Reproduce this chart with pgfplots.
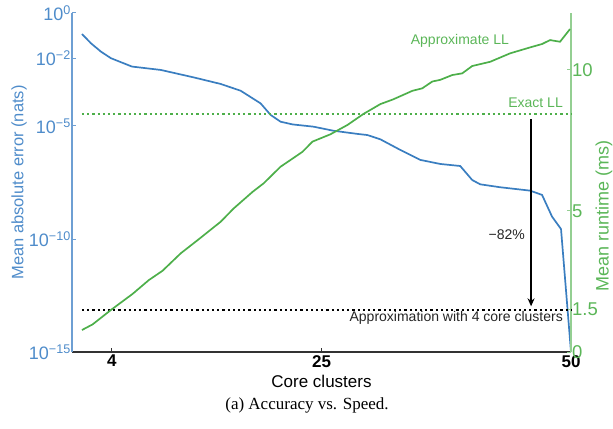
\documentclass[border=0pt]{standalone}
\usepackage{fontspec}
\setmainfont{Liberation Sans}
\newfontfamily\capfont{Liberation Serif}
\usepackage{pgfplots}
\pgfplotsset{compat=1.18}
\usetikzlibrary{calc,arrows.meta}
\definecolor{cblue}{HTML}{3A7EC0}
\definecolor{cbluel}{HTML}{6E9FD3}
\definecolor{cbluet}{HTML}{4F8CCA}
\definecolor{cgreen}{HTML}{4DAF4A}
\definecolor{cgreenl}{HTML}{94CF92}
\definecolor{cgreent}{HTML}{5BB658}
\begin{document}
\begin{tikzpicture}
\begin{axis}[
  width=499pt, height=339pt, scale only axis,
  xmin=0, xmax=50, ymin=-15, ymax=0,
  axis x line*=bottom, axis y line*=left,
  x axis line style={-, draw=black!80, line width=1.2pt},
  y axis line style={-, draw=cbluel, line width=1.2pt},
  xtick={4,25,50}, xticklabels={4,25,50},
  ytick={-15,-10,-5,-2,0},
  yticklabels={10\textsuperscript{−15},10\textsuperscript{−10},10\textsuperscript{−5},10\textsuperscript{−2},10\textsuperscript{0}},
  tick align=inside, major tick length=4pt,
  xtick style={draw=black!80, line width=1pt},
  ytick style={draw=cbluel, line width=1pt},
  xticklabel style={font=\fontsize{17}{17}\selectfont\bfseries, inner sep=3pt},
  yticklabel style={font=\fontsize{18}{18}\selectfont, text=cbluet, inner sep=1pt},
  xlabel={Core clusters},
  xlabel style={at={(axis description cs:0.5,-0.0855)}, anchor=center, font=\fontsize{17}{17}\selectfont},
  clip=false,
]
\coordinate (bl) at (rel axis cs:0,0);
\coordinate (tr) at (rel axis cs:1,1);
\addplot[cblue, line width=1.7pt] coordinates {
(1,-0.93) (1.9,-1.34) (2.9,-1.71) (3.9,-2.0) (6,-2.37) (8.9,-2.52) (12.2,-2.85)
(14.9,-3.14) (16.9,-3.44) (18.9,-4.0) (19.9,-4.51) (20.9,-4.81) (22.1,-4.93)
(24.2,-5.03) (26.2,-5.21) (28.6,-5.35) (29.6,-5.40) (30.9,-5.59) (32.9,-6.06)
(34.9,-6.5) (36.9,-6.68) (38.9,-6.77) (40.1,-7.39) (40.9,-7.58) (42.9,-7.71)
(45.9,-7.86) (47.1,-8.05) (48.1,-9.01) (49.0,-9.56) (50,-15)
};
\node[rotate=90, anchor=center, text=cbluet, font=\fontsize{16.5}{16.5}\selectfont] at (axis description cs:-0.106,0.5) {Mean absolute error (nats)};
\end{axis}
\begin{axis}[
  width=499pt, height=339pt, scale only axis,
  xmin=0, xmax=50, ymin=0, ymax=12.02,
  axis x line=none, axis y line*=right,
  y axis line style={-, draw=cgreenl, line width=1.2pt},
  ytick={0,1.5,5,10}, yticklabels={0,1.5,5,10},
  tick align=inside, major tick length=4pt,
  ytick style={draw=cgreenl, line width=1pt},
  yticklabel style={font=\fontsize{18.5}{18.5}\selectfont, text=cgreent, inner sep=1pt},
  clip=false,
]
\addplot[black, line width=2pt, dash pattern=on 2.2pt off 3pt] coordinates {(1,1.5) (50,1.5)};
\addplot[cgreen, line width=2pt, dash pattern=on 2.2pt off 3pt] coordinates {(1,8.43) (50,8.43)};
\addplot[cgreen, line width=1.7pt] coordinates {
(1,0.78) (2.07,0.98) (3.9,1.49) (6.07,2.06) (7.7,2.55) (9.07,2.88) (10.9,3.50)
(12.6,3.97) (14.9,4.62) (16.2,5.09) (18.1,5.68) (19.2,5.98) (20.9,6.57) (21.9,6.81)
(23.1,7.10) (24.1,7.46) (25.9,7.72) (27.6,8.05) (29.2,8.44) (30.9,8.79) (32.2,8.96)
(34.1,9.26) (35.1,9.35) (36.1,9.59) (36.9,9.65) (38.1,9.82) (39.1,9.88) (40.1,10.14)
(41.9,10.29) (43.9,10.59) (45.9,10.80) (47.1,10.92) (47.9,11.06) (48.9,11.0) (49.9,11.45)
};
\addplot[black, line width=1.5pt, -{Stealth[length=8pt,width=7pt]}] coordinates {(46,8.26) (46,1.62)};
\node[anchor=east, inner sep=0pt, text=cgreent, font=\fontsize{14}{14}\selectfont] at (axis cs:43.8,11.04) {Approximate LL};
\node[anchor=east, inner sep=0pt, text=cgreent, font=\fontsize{14}{14}\selectfont] at (axis cs:49.2,8.84) {Exact LL};
\node[anchor=east, inner sep=0pt, text=black!85, font=\fontsize{14}{14}\selectfont] at (axis cs:45.4,4.15) {−82\%};
\node[anchor=east, inner sep=0pt, text=black!85, font=\fontsize{14}{14}\selectfont] at (axis cs:49.2,1.21) {Approximation with 4 core clusters};
\node[rotate=90, anchor=center, text=cgreent, font=\fontsize{18}{18}\selectfont] at (axis description cs:1.066,0.40) {Mean runtime (ms)};
\end{axis}
\node[font=\capfont\fontsize{17}{17}\selectfont] at ($(bl)+(235pt,-53pt)$) {(a) Accuracy vs. Speed.};
\pgfresetboundingbox
\path[use as bounding box] ($(bl)+(-72pt,-76pt)$) rectangle ($(tr)+(42pt,13pt)$);
\end{tikzpicture}
\end{document}
